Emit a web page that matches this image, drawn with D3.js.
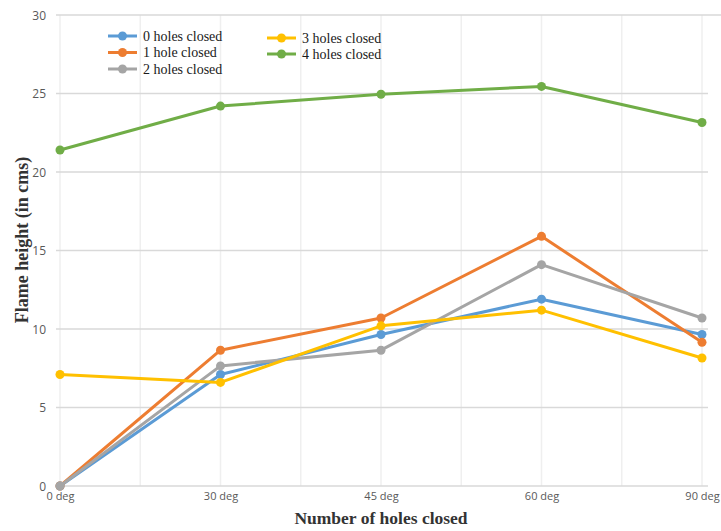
<!DOCTYPE html>
<html>
<head>
<meta charset="utf-8">
<script src="https://cdn.jsdelivr.net/npm/d3@7/dist/d3.min.js"></script>
<style>
  html, body { margin: 0; padding: 0; background: #fff; }
  svg { display: block; }
</style>
</head>
<body>
<svg id="chart" width="721" height="531"></svg>
<script>
// Flame height by opening angle, one line per number of closed holes
const categories = ["0 deg", "30 deg", "45 deg", "60 deg", "90 deg"];
const seriesNames = ["0 holes closed", "1 hole closed", "2 holes closed", "3 holes closed", "4 holes closed"];
const holes0 = [0, 7.1, 9.65, 11.9, 9.65];
const holes1 = [0, 8.65, 10.7, 15.9, 9.15];
const holes2 = [0, 7.65, 8.65, 14.1, 10.7];
const holes3 = [7.1, 6.6, 10.2, 11.2, 8.15];
const holes4 = [21.4, 24.2, 24.95, 25.45, 23.15];
const yTicks = [0, 5, 10, 15, 20, 25, 30];
const colors = ["#5B9BD5", "#ED7D31", "#A5A5A5", "#FFC000", "#70AD47"];

const series = [holes0, holes1, holes2, holes3, holes4].map((values, i) => ({
  name: seriesNames[i], values, color: colors[i]
}));

const svg = d3.select("#chart");
const plotLeft = 60, plotRight = 702, plotTop = 15, plotBottom = 486;

const x = d3.scalePoint().domain(categories).range([plotLeft, plotRight]);
const y = d3.scaleLinear().domain([0, 30]).range([plotBottom, plotTop]);

// vertical gridlines at each category and halfway between neighbours
const xs = categories.map(c => x(c));
const vLines = [];
xs.forEach((v, i) => {
  vLines.push(v);
  if (i < xs.length - 1) vLines.push((v + xs[i + 1]) / 2);
});
svg.append("g").selectAll("line").data(vLines).join("line")
  .attr("x1", d => d).attr("x2", d => d)
  .attr("y1", plotTop).attr("y2", plotBottom)
  .attr("stroke", "#efefef").attr("stroke-width", 1.5);

// horizontal gridlines
svg.append("g").selectAll("line").data(yTicks).join("line")
  .attr("x1", plotLeft - 4)
  .attr("x2", d => d === 30 ? 721 : 708)
  .attr("y1", d => y(d)).attr("y2", d => y(d))
  .attr("stroke", "#d9d9d9").attr("stroke-width", 1.5);

// y axis tick labels
const yAxis = d3.axisLeft(y).tickValues(yTicks).tickSize(0).tickPadding(0);
const gy = svg.append("g").attr("transform", "translate(46,0)").call(yAxis);
gy.select(".domain").remove();
gy.selectAll("text")
  .attr("font-family", "'Open Sans', 'DejaVu Sans', sans-serif")
  .attr("font-size", 12).attr("fill", "#595959")
  .attr("dy", "0.35em");

// x axis tick labels
const xAxis = d3.axisBottom(x).tickSize(0).tickPadding(0);
const gx = svg.append("g").attr("transform", `translate(0,${plotBottom + 5})`).call(xAxis);
gx.select(".domain").remove();
gx.selectAll("text")
  .attr("font-family", "'Open Sans', 'DejaVu Sans', sans-serif")
  .attr("font-size", 11).attr("fill", "#595959")
  .attr("dy", "0.85em");

// lines and markers
const line = d3.line().x((d, i) => x(categories[i])).y(d => y(d));
series.forEach(s => {
  const g = svg.append("g");
  g.append("path").datum(s.values)
    .attr("d", line).attr("fill", "none")
    .attr("stroke", s.color).attr("stroke-width", 3)
    .attr("stroke-linejoin", "round");
  g.selectAll("circle").data(s.values).join("circle")
    .attr("cx", (d, i) => x(categories[i])).attr("cy", d => y(d))
    .attr("r", 4.5).attr("fill", s.color);
});

// legend: two columns
const legendPos = [[108, 36], [108, 52.5], [108, 69], [267, 38], [267, 54]];
series.forEach((s, i) => {
  const [lx, ly] = legendPos[i];
  const g = svg.append("g").attr("transform", `translate(${lx},${ly})`);
  g.append("line").attr("x1", 0).attr("x2", 29).attr("y1", 0).attr("y2", 0)
    .attr("stroke", s.color).attr("stroke-width", 3);
  g.append("circle").attr("cx", 14.5).attr("cy", 0).attr("r", 4.5).attr("fill", s.color);
  g.append("text").attr("x", 35).attr("y", 0).attr("dy", "0.35em")
    .attr("font-family", "'Liberation Serif', 'Times New Roman', serif")
    .attr("font-size", 14).attr("fill", "#1a1a1a")
    .text(s.name);
});

// axis titles
svg.append("text")
  .attr("x", 381).attr("y", 524).attr("text-anchor", "middle")
  .attr("font-family", "'Liberation Serif', 'Times New Roman', serif")
  .attr("font-weight", "bold").attr("font-size", 17.5).attr("fill", "#333")
  .text("Number of holes closed");

svg.append("text")
  .attr("transform", "translate(28,240) rotate(-90)")
  .attr("text-anchor", "middle")
  .attr("font-family", "'Liberation Serif', 'Times New Roman', serif")
  .attr("font-weight", "bold").attr("font-size", 18).attr("fill", "#333")
  .text("Flame height (in cms)");
</script>
</body>
</html>
